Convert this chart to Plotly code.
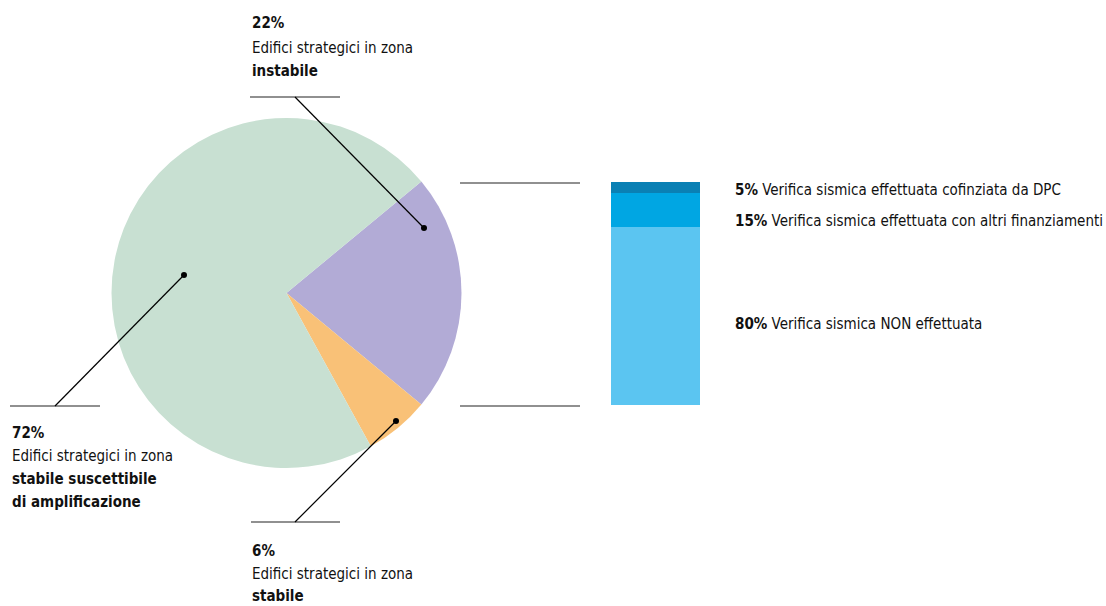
import plotly.graph_objects as go

W, H = 1106, 606

# Pie: strategic buildings by seismic zone
zone_labels = ["instabile", "stabile", "stabile suscettibile di amplificazione"]
zone_values = [22, 6, 72]
zone_colors = ["#b2abd6", "#f9c177", "#c8e0d2"]

# Stacked bar: seismic verification status for the unstable-zone share
check_labels = [
    "Verifica sismica NON effettuata",
    "Verifica sismica effettuata con altri finanziamenti",
    "Verifica sismica effettuata cofinziata da DPC",
]
check_values = [80, 15, 5]
check_colors = ["#5bc5f1", "#00a6e3", "#0a80b4"]

FONT = "DejaVu Sans Condensed, DejaVu Sans, sans-serif"
INK = "#111111"

fig = go.Figure()

# pie geometry in pixels
cx, cy, r = 286.5, 293, 175
fig.add_trace(go.Pie(
    labels=zone_labels, values=zone_values,
    marker=dict(colors=zone_colors, line=dict(width=0)),
    sort=False, direction="clockwise", rotation=50.4,
    textinfo="none", hoverinfo="label+percent", showlegend=False,
    domain=dict(x=[(cx - r) / W, (cx + r) / W],
                y=[(H - cy - r) / H, (H - cy + r) / H]),
))

# stacked bar, bottom to top
bx0, bx1, by0, by1 = 611, 700, 182, 405
for lab, val, col in zip(check_labels, check_values, check_colors):
    fig.add_trace(go.Bar(
        x=[0], y=[val], name=lab, marker=dict(color=col, line=dict(width=0)),
        width=1, showlegend=False, hoverinfo="name+y",
        xaxis="x", yaxis="y",
    ))

# invisible pixel-space overlay for leader lines and labels
fig.add_trace(go.Scatter(x=[], y=[], xaxis="x2", yaxis="y2", showlegend=False))

shapes = []
def line(x0, y0, x1, y1, color="#222222", width=1.2):
    shapes.append(dict(type="line", xref="x2", yref="y2", x0=x0, y0=y0, x1=x1, y1=y1,
                       line=dict(color=color, width=width)))

def dot(x, y, rad=3):
    shapes.append(dict(type="circle", xref="x2", yref="y2", x0=x - rad, y0=y - rad,
                       x1=x + rad, y1=y + rad, fillcolor="#000000",
                       line=dict(color="#000000", width=0)))

# zoom connectors from pie to bar
line(460, 183, 580, 183)
line(460, 406, 580, 406)

# leader lines
line(250, 97, 340, 97)
line(295, 97, 424, 228, "#000000")
dot(424, 228)

line(10, 406, 100, 406)
line(55, 406, 184, 275, "#000000")
dot(184, 275)

line(251, 522, 340, 522)
line(295, 522, 396, 421, "#000000")
dot(396, 421)

annotations = []
def text(x, y, s, size=15):
    annotations.append(dict(xref="x2", yref="y2", x=x, y=y, text=s, showarrow=False,
                            xanchor="left", yanchor="middle", align="left",
                            font=dict(family=FONT, size=size, color=INK)))

pct = dict(zip(zone_labels, zone_values))

text(250, 23, f"<b>{pct['instabile']}%</b>")
text(250, 48, "Edifici strategici in zona")
text(250, 71, "<b>instabile</b>")

text(10, 433, f"<b>{pct['stabile suscettibile di amplificazione']}%</b>")
text(10, 456, "Edifici strategici in zona")
text(10, 479, "<b>stabile suscettibile</b>")
text(10, 502, "<b>di amplificazione</b>")

text(250, 551, f"<b>{pct['stabile']}%</b>")
text(250, 574, "Edifici strategici in zona")
text(250, 596, "<b>stabile</b>")

chk = dict(zip(check_labels, check_values))
for lab, ypix in [(check_labels[2], 190), (check_labels[1], 221), (check_labels[0], 324)]:
    text(733, ypix, f"<b>{chk[lab]}%</b> {lab}", size=15)

fig.update_layout(
    width=W, height=H, margin=dict(l=0, r=0, t=0, b=0),
    paper_bgcolor="white", plot_bgcolor="rgba(0,0,0,0)",
    barmode="stack", bargap=0,
    xaxis=dict(domain=[bx0 / W, bx1 / W], range=[-0.5, 0.5], visible=False, fixedrange=True),
    yaxis=dict(domain=[(H - by1) / H, (H - by0) / H], range=[0, 100], visible=False, fixedrange=True),
    xaxis2=dict(domain=[0, 1], range=[0, W], visible=False, anchor="y2", fixedrange=True),
    yaxis2=dict(domain=[0, 1], range=[H, 0], visible=False, anchor="x2", fixedrange=True),
    shapes=shapes, annotations=annotations,
    font=dict(family=FONT, color=INK),
)

fig.write_html("out.html", config=dict(displayModeBar=False))
